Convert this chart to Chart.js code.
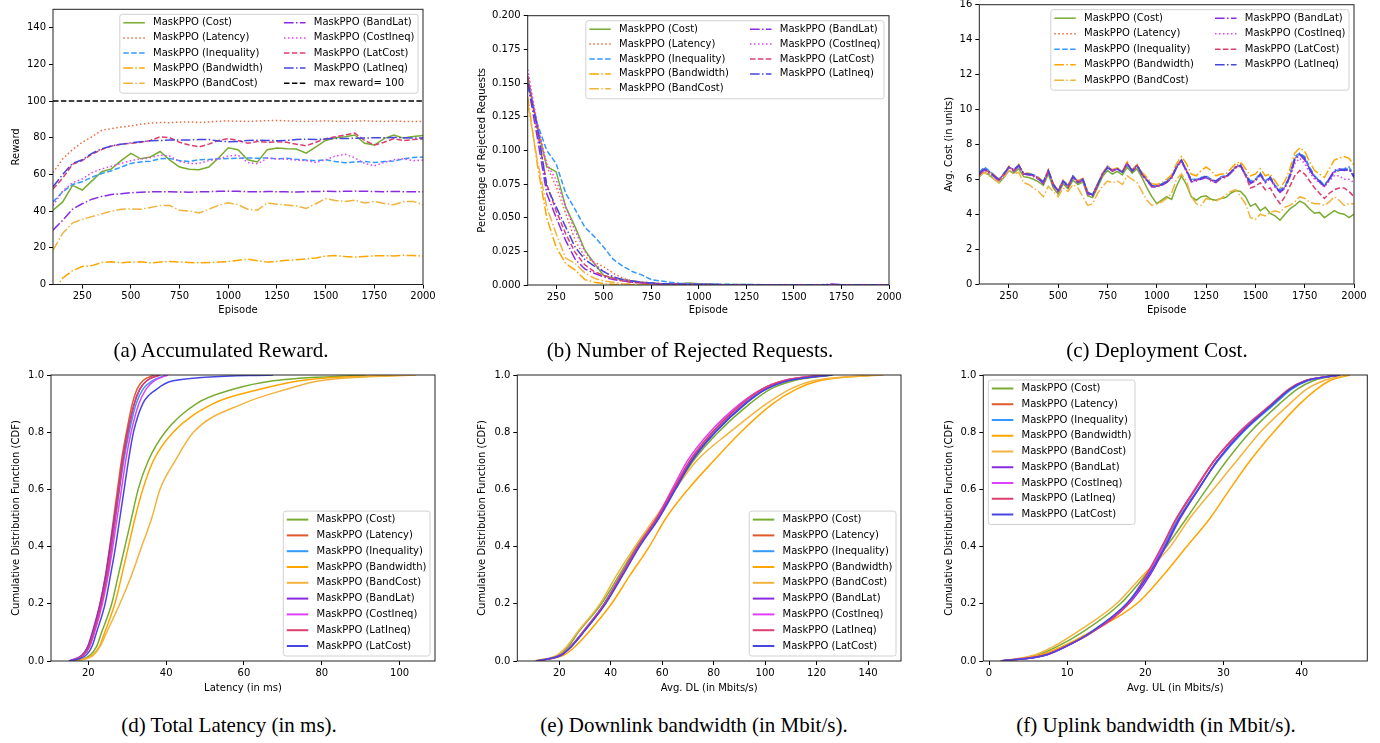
<!DOCTYPE html>
<html>
<head>
<meta charset="utf-8">
<title>MaskPPO training and CDF results</title>
<script src="https://cdn.jsdelivr.net/npm/chart.js@4.4.0/dist/chart.umd.min.js"></script>
<style>
  html, body { margin: 0; padding: 0; background: #fff; }
  body { width: 1380px; height: 743px; position: relative; overflow: hidden; }
  canvas { position: absolute; }
  .cap {
    position: absolute;
    font-family: "Liberation Serif", "Times New Roman", serif;
    font-size: 21px;
    color: #000;
    white-space: nowrap;
    transform: translate(-50%, -50%);
  }
</style>
</head>
<body>
<canvas id="chart-reward" width="460" height="330" style="left:0px;top:0px"></canvas>
<canvas id="chart-rejected" width="460" height="330" style="left:460px;top:0px"></canvas>
<canvas id="chart-cost" width="460" height="330" style="left:920px;top:0px"></canvas>
<canvas id="chart-latency" width="460" height="338" style="left:0px;top:362px"></canvas>
<canvas id="chart-dl" width="460" height="338" style="left:460px;top:362px"></canvas>
<canvas id="chart-ul" width="460" height="338" style="left:920px;top:362px"></canvas>

<div class="cap" style="left:221px;top:350px">(a) Accumulated Reward.</div>
<div class="cap" style="left:690px;top:350px">(b) Number of Rejected Requests.</div>
<div class="cap" style="left:1157px;top:350px">(c) Deployment Cost.</div>
<div class="cap" style="left:229px;top:725px">(d) Total Latency (in ms).</div>
<div class="cap" style="left:694px;top:725px">(e) Downlink bandwidth (in Mbit/s).</div>
<div class="cap" style="left:1156px;top:725px">(f) Uplink bandwidth (in Mbit/s).</div>

<script>
// ---- data ----------------------------------------------------------------

const lineLabels = ['MaskPPO (Cost)', 'MaskPPO (Latency)', 'MaskPPO (Inequality)', 'MaskPPO (Bandwidth)',
  'MaskPPO (BandCost)', 'MaskPPO (BandLat)', 'MaskPPO (CostIneq)', 'MaskPPO (LatCost)', 'MaskPPO (LatIneq)'];
const cdfLabels = ['MaskPPO (Cost)', 'MaskPPO (Latency)', 'MaskPPO (Inequality)', 'MaskPPO (Bandwidth)',
  'MaskPPO (BandCost)', 'MaskPPO (BandLat)', 'MaskPPO (CostIneq)', 'MaskPPO (LatIneq)', 'MaskPPO (LatCost)'];

const episodes = [100, 150, 200, 250, 300, 350, 400, 450, 500, 550, 600, 650, 700, 750, 800, 850, 900, 950, 1000,
  1050, 1100, 1150, 1200, 1250, 1300, 1350, 1400, 1450, 1500, 1550, 1600, 1650, 1700, 1750, 1800, 1850, 1900, 1950, 2000];

const costEpisodes = [100, 125, 150, 175, 200, 225, 250, 275, 300, 325, 350, 375, 400, 425, 450, 475, 500, 525, 550, 575,
  600, 625, 650, 675, 700, 725, 750, 775, 800, 825, 850, 875, 900, 925, 950, 975, 1000, 1025, 1050, 1075,
  1100, 1125, 1150, 1175, 1200, 1225, 1250, 1275, 1300, 1325, 1350, 1375, 1400, 1425, 1450, 1475, 1500, 1525, 1550, 1575,
  1600, 1625, 1650, 1675, 1700, 1725, 1750, 1775, 1800, 1825, 1850, 1875, 1900, 1925, 1950, 1975, 2000];

const maxReward = 100;

// (a) accumulated reward
const rewardCost = [40.5, 45, 54, 51.5, 56.5, 61.5, 63, 67.5, 71.5, 68.5, 69.5, 72.5, 67.8, 64, 62.8, 62.5, 64, 69, 74.5, 73.5,
  68, 66.8, 73.5, 74.4, 74, 73.8, 71.6, 75, 78.5, 80, 80.5, 81.5, 77, 76, 79.5, 81.5, 79.8, 80.7, 81.2];
const rewardLatency = [61, 68.5, 73.5, 77.5, 80.5, 84, 85, 85.8, 86.5, 87.3, 88, 88.3, 88.2, 88.5, 88.6, 88.3, 88.6, 89, 89.1, 89,
  88.9, 89.1, 89.3, 89.4, 89.2, 89, 88.9, 89.1, 89.2, 89, 88.9, 89.1, 89.2, 89, 88.9, 89.1, 88.9, 88.8, 88.8];
const rewardInequality = [45, 50.5, 54.5, 56, 58.5, 60.5, 62, 64, 66, 66.8, 67.2, 68.5, 68.7, 67.5, 67, 68, 68.2, 68.5, 68.7, 68.8,
  69, 68.8, 69, 68.5, 68.8, 68.2, 67.8, 67.5, 68, 67, 66.3, 66.8, 67, 66.5, 67, 67.3, 68.5, 69.2, 69.5];
const rewardBandwidth = [-4, 3.5, 7.5, 9.8, 10.3, 12, 12.4, 11.8, 12.2, 12.4, 11.8, 12.2, 12.5, 12.3, 12, 11.8, 12, 12.2, 12.5, 13.2,
  13.8, 13, 12.2, 12.6, 13.2, 13.5, 14, 14.5, 15.5, 15.8, 15.2, 15, 15.3, 15.6, 15.7, 15.6, 15.9, 15.8, 15.5];
const rewardBandCost = [18.7, 28, 33.5, 35.5, 37, 38.5, 40, 41, 41.2, 41, 42, 43, 43, 40.5, 40, 39, 41, 43.2, 44.5, 43.5,
  41, 40.5, 44.5, 43.8, 43.3, 42.8, 41.5, 44, 46.8, 45.8, 45.3, 46, 44.4, 45.3, 44.2, 43.5, 45.2, 45.3, 43.5];
const rewardBandLat = [29.6, 35, 41, 44, 46.5, 48, 49, 49.5, 50, 50.3, 50.5, 50.6, 50.5, 50.4, 50.3, 50.5, 50.6, 50.8, 50.9, 50.8,
  50.6, 50.5, 50.7, 50.6, 50.5, 50.4, 50.6, 50.7, 50.8, 50.7, 50.8, 50.9, 50.8, 50.7, 50.6, 50.7, 50.6, 50.5, 50.5];
const rewardCostIneq = [43, 51, 55.5, 57.5, 61, 63, 64.5, 66, 67.5, 68.5, 69.2, 70.5, 70, 67, 66, 66, 67.5, 68.5, 70, 70.5,
  66.5, 65.8, 68.8, 68.5, 68.3, 67.8, 67.5, 66.5, 68, 70, 71, 69, 66, 64.7, 66.5, 68, 68.5, 67.5, 67.8];
const rewardLatCost = [52, 58, 65.5, 67.5, 71, 73.5, 75.5, 76.5, 77, 77.5, 78.5, 80.5, 80, 77.5, 76, 75, 76.5, 78.5, 79.5, 78.5,
  77, 78, 77.5, 77.8, 77.5, 76.5, 75.6, 77.5, 79.5, 80.5, 81.5, 82.5, 78.5, 76, 77.5, 79.5, 78.5, 79, 79.5];
const rewardLatIneq = [53.3, 60, 66, 68, 71.5, 74, 75.5, 76.5, 77.2, 77.8, 78.3, 78.5, 78.7, 78.8, 78.8, 79, 79, 78.2, 77.8, 78,
  78.5, 78.6, 78.5, 78.4, 78.5, 79, 79.2, 79, 79.3, 79.6, 79.6, 79.7, 79.8, 80, 80, 80.1, 80, 79.8, 79.8];

// (b) share of rejected requests
const rejCost = [0.155, 0.117, 0.088, 0.084, 0.058, 0.043, 0.026, 0.016, 0.007, 0.005, 0.004, 0.003, 0.002, 0.0015, 0.001, 0.001,
  0.001, 0.0015, 0.001, 0.0008, 0.0005, 0.0004, 0.0003, 0.0003, 0.0002, 0.0002, 0.0002, 0.0001, 0.0001, 0.0001,
  0.0001, 0.0001, 0.0002, 0.0001, 0.0001, 0.0001, 0.0001, 0.0001, 0.0001];
const rejLatency = [0.155, 0.12, 0.088, 0.073, 0.053, 0.033, 0.021, 0.017, 0.0135, 0.0087, 0.005, 0.003, 0.002, 0.0015, 0.001,
  0.0008, 0.0006, 0.0005, 0.0004, 0.0003, 0.0003, 0.0002, 0.0002, 0.0002, 0.0001, 0.0001, 0.0001, 0.0001, 0.0001, 0.0001,
  0.0001, 0.0001, 0.0001, 0.0001, 0.0001, 0.0001, 0.0001, 0.0001, 0.0001];
const rejInequality = [0.15, 0.12, 0.1, 0.09, 0.068, 0.056, 0.043, 0.036, 0.028, 0.019, 0.014, 0.01, 0.0075, 0.004, 0.003,
  0.002, 0.0012, 0.001, 0.0008, 0.0007, 0.0006, 0.0005, 0.0004, 0.0003, 0.0003, 0.0002, 0.0002, 0.0002, 0.0002, 0.0001,
  0.0001, 0.0001, 0.0001, 0.0001, 0.0001, 0.0001, 0.0001, 0.0001, 0.0001];
const rejBandwidth = [0.14, 0.09, 0.05, 0.028, 0.016, 0.011, 0.004, 0.002, 0.001, 0.0005, 0.0003, 0.0002, 0.0001, 0, 0,
  0, 0, 0, 0, 0, 0, 0, 0, 0, 0, 0, 0, 0, 0, 0, 0, 0, 0, 0, 0, 0, 0, 0, 0];
const rejBandCost = [0.135, 0.093, 0.058, 0.038, 0.02, 0.016, 0.009, 0.005, 0.003, 0.002, 0.001, 0.0006, 0.0004, 0.0002, 0.0001,
  0, 0, 0, 0, 0, 0, 0, 0, 0, 0, 0, 0, 0, 0, 0, 0, 0, 0, 0, 0, 0, 0, 0, 0];
const rejBandLat = [0.15, 0.11, 0.068, 0.05, 0.033, 0.019, 0.012, 0.0087, 0.006, 0.004, 0.003, 0.002, 0.0015, 0.001, 0.0008,
  0.0006, 0.0005, 0.0004, 0.0003, 0.0003, 0.0002, 0.0002, 0.0002, 0.0001, 0.0001, 0.0001, 0.0001, 0.0001, 0.0001, 0.0001,
  0.0001, 0.0002, 0.0008, 0.0002, 0.0001, 0.0001, 0.0001, 0.0001, 0.0001];
const rejCostIneq = [0.16, 0.12, 0.09, 0.078, 0.058, 0.04, 0.025, 0.016, 0.01, 0.006, 0.004, 0.003, 0.002, 0.0015, 0.001,
  0.0008, 0.0006, 0.0005, 0.0004, 0.0003, 0.0003, 0.0002, 0.0002, 0.0002, 0.0001, 0.0001, 0.0001, 0.0001, 0.0001, 0.0001,
  0.0001, 0.0001, 0.0001, 0.0001, 0.0001, 0.0001, 0.0001, 0.0001, 0.0002];
const rejLatCost = [0.155, 0.115, 0.075, 0.055, 0.038, 0.024, 0.015, 0.01, 0.007, 0.005, 0.003, 0.002, 0.0015, 0.001, 0.0008,
  0.0006, 0.0005, 0.0004, 0.0003, 0.0003, 0.0002, 0.0002, 0.0002, 0.0001, 0.0001, 0.0001, 0.0001, 0.0001, 0.0001, 0.0001,
  0.0001, 0.0001, 0.0001, 0.0001, 0.0001, 0.0001, 0.0001, 0.0001, 0.0001];
const rejLatIneq = [0.15, 0.118, 0.073, 0.058, 0.043, 0.028, 0.019, 0.014, 0.01, 0.006, 0.004, 0.003, 0.002, 0.0015, 0.001,
  0.0008, 0.0006, 0.0005, 0.0004, 0.0003, 0.0003, 0.0002, 0.0002, 0.0002, 0.0001, 0.0001, 0.0001, 0.0001, 0.0001, 0.0001,
  0.0001, 0.0001, 0.0001, 0.0001, 0.0001, 0.0001, 0.0001, 0.0001, 0.0001];

// (c) deployment cost
const depCost = [6.15, 6.4, 6.25, 6.0, 5.8, 6.1, 6.5, 6.35, 6.6, 6.15, 6.1, 6.0, 5.85, 5.65, 6.3, 5.5, 5.15, 5.75, 5.45, 5.95,
  5.7, 5.85, 5.05, 4.95, 5.55, 6.15, 6.5, 6.3, 6.45, 6.25, 6.7, 6.35, 6.6, 6.1, 5.5, 5.0, 4.6, 4.8, 5.0, 4.85,
  5.6, 6.2, 5.7, 5.0, 4.8, 5.0, 5.05, 4.85, 4.8, 4.9, 4.95, 5.2, 5.35, 5.3, 5.0, 4.45, 4.6, 4.2, 4.4, 4.05,
  3.9, 3.65, 4.0, 4.3, 4.5, 4.75, 4.6, 4.3, 4.05, 4.1, 3.8, 4.0, 4.2, 4.05, 4.0, 3.8, 4.0];
const depLatency = [6.3, 6.55, 6.4, 6.2, 5.95, 6.3, 6.65, 6.5, 6.8, 6.35, 6.3, 6.2, 6.05, 5.8, 6.45, 5.7, 5.3, 5.9, 5.6, 6.15,
  5.85, 6.0, 5.2, 5.1, 5.7, 6.35, 6.7, 6.5, 6.6, 6.45, 6.9, 6.5, 6.8, 6.3, 5.95, 5.6, 5.6, 5.7, 5.85, 6.1,
  6.7, 7.05, 6.5, 5.9, 5.95, 6.05, 6.15, 5.95, 5.85, 6.1, 6.15, 6.45, 6.75, 6.9, 6.3, 5.85, 5.95, 6.3, 5.85, 6.1,
  5.6, 5.3, 5.55, 6.2, 7.2, 7.45, 7.2, 6.6, 6.15, 5.9, 5.6, 6.0, 6.4, 6.5, 6.6, 6.7, 6.2];
const depInequality = [6.4, 6.7, 6.5, 6.25, 6.0, 6.35, 6.7, 6.55, 6.8, 6.3, 6.35, 6.25, 6.1, 5.85, 6.5, 5.75, 5.35, 5.95, 5.65, 6.2,
  5.9, 6.05, 5.25, 5.15, 5.75, 6.3, 6.75, 6.55, 6.6, 6.4, 6.9, 6.5, 6.8, 6.35, 6.0, 5.65, 5.65, 5.75, 5.9, 6.15,
  6.75, 7.1, 6.55, 6.0, 6.0, 6.1, 6.2, 6.0, 5.9, 6.15, 6.2, 6.4, 6.7, 6.8, 6.3, 5.9, 6.0, 6.35, 5.9, 6.15,
  5.65, 5.4, 5.6, 6.3, 7.3, 7.5, 7.3, 6.7, 6.2, 5.95, 5.65, 6.05, 6.45, 6.55, 6.6, 6.7, 6.2];
const depBandwidth = [6.35, 6.55, 6.4, 6.25, 6.0, 6.3, 6.75, 6.5, 6.85, 6.3, 6.35, 6.2, 6.1, 5.85, 6.55, 5.75, 5.35, 5.95, 5.65, 6.2,
  5.9, 6.05, 5.25, 5.15, 5.75, 6.35, 6.75, 6.55, 6.65, 6.45, 7.0, 6.55, 6.85, 6.4, 6.1, 5.75, 5.7, 5.8, 6.0, 6.25,
  6.9, 7.3, 6.9, 6.3, 6.2, 6.5, 6.7, 6.5, 6.2, 6.3, 6.3, 6.6, 6.9, 7.0, 6.6, 6.2, 6.3, 6.6, 6.2, 6.3,
  5.9, 5.5, 5.9, 6.6, 7.5, 7.8, 7.6, 7.0, 6.5, 6.3, 6.1, 6.6, 7.1, 7.2, 7.3, 7.2, 6.8];
const depBandCost = [6.2, 6.4, 6.2, 6.0, 5.8, 6.1, 6.5, 6.3, 6.4, 5.8, 5.7, 5.5, 5.3, 5.0, 5.6, 5.3, 5.0, 5.5, 5.3, 5.7,
  5.5, 5.0, 4.5, 4.6, 5.2, 5.6, 5.9, 5.8, 5.9, 5.7, 6.2, 6.0, 5.8, 5.3, 4.8, 4.5, 4.6, 4.7, 4.9, 5.2,
  6.0, 6.3, 5.9, 5.0, 4.6, 4.5, 4.9, 4.8, 4.75, 4.9, 5.1, 5.3, 5.4, 5.0, 4.6, 3.8, 3.7, 4.0, 3.9, 4.1,
  4.2, 4.1, 4.4, 4.5, 4.7, 5.0, 4.9, 4.7, 4.6, 4.6, 4.5, 4.7, 5.0, 4.8, 4.5, 4.6, 4.6];
const depBandLat = [6.25, 6.55, 6.35, 6.15, 5.9, 6.25, 6.7, 6.45, 6.75, 6.3, 6.25, 6.15, 6.0, 5.75, 6.45, 5.65, 5.25, 5.85, 5.55, 6.1,
  5.8, 5.95, 5.15, 5.05, 5.65, 6.3, 6.7, 6.45, 6.6, 6.4, 6.95, 6.45, 6.75, 6.25, 5.9, 5.55, 5.55, 5.65, 5.8, 6.05,
  6.65, 7.05, 6.45, 5.85, 5.9, 6.0, 6.1, 5.9, 5.8, 6.05, 6.1, 6.35, 6.65, 6.75, 6.2, 5.75, 5.9, 6.25, 5.8, 6.05,
  5.55, 5.25, 5.5, 6.15, 7.1, 7.4, 7.1, 6.55, 6.1, 5.85, 5.6, 6.05, 6.5, 6.6, 6.5, 6.55, 6.2];
const depCostIneq = [6.3, 6.6, 6.4, 6.2, 5.95, 6.3, 6.7, 6.5, 6.8, 6.3, 6.3, 6.2, 6.05, 5.8, 6.5, 5.7, 5.3, 5.9, 5.6, 6.15,
  5.85, 6.0, 5.2, 5.1, 5.7, 6.3, 6.7, 6.5, 6.6, 6.4, 6.9, 6.5, 6.8, 6.3, 5.95, 5.6, 5.6, 5.7, 5.85, 6.1,
  6.7, 7.0, 6.45, 5.9, 5.95, 6.05, 6.1, 5.95, 5.85, 6.1, 6.15, 6.4, 6.65, 6.75, 6.2, 5.8, 5.9, 6.25, 5.8, 6.05,
  5.55, 5.25, 5.5, 6.1, 6.9, 7.2, 6.9, 6.4, 6.0, 5.8, 5.55, 5.9, 6.2, 6.2, 6.0, 6.0, 5.8];
const depLatCost = [6.3, 6.6, 6.4, 6.2, 5.95, 6.3, 6.7, 6.5, 6.8, 6.3, 6.3, 6.2, 6.05, 5.8, 6.5, 5.7, 5.3, 5.9, 5.6, 6.15,
  5.85, 6.0, 5.2, 5.1, 5.7, 6.3, 6.7, 6.5, 6.6, 6.4, 6.9, 6.5, 6.8, 6.3, 5.95, 5.6, 5.6, 5.7, 5.85, 6.1,
  6.7, 7.1, 6.5, 5.9, 5.95, 6.05, 6.15, 5.95, 5.85, 6.1, 6.15, 6.4, 6.7, 6.8, 6.2, 5.5, 5.6, 5.8, 5.4, 5.5,
  5.0, 4.6, 5.0, 5.6, 6.2, 6.5, 6.3, 5.9, 5.5, 5.2, 4.9, 5.2, 5.4, 5.5, 5.5, 5.3, 5.0];
const depLatIneq = [6.35, 6.6, 6.45, 6.2, 6.0, 6.3, 6.7, 6.55, 6.8, 6.3, 6.3, 6.25, 6.05, 5.85, 6.5, 5.7, 5.35, 5.9, 5.6, 6.15,
  5.85, 6.0, 5.25, 5.1, 5.7, 6.3, 6.65, 6.5, 6.6, 6.4, 6.85, 6.5, 6.8, 6.3, 5.95, 5.65, 5.6, 5.7, 5.85, 6.1,
  6.7, 7.1, 6.5, 5.95, 5.95, 6.05, 6.15, 5.95, 5.9, 6.1, 6.15, 6.4, 6.7, 6.8, 6.25, 5.8, 5.95, 6.3, 5.85, 6.1,
  5.6, 5.3, 5.55, 6.2, 7.2, 7.45, 7.2, 6.6, 6.15, 5.9, 5.6, 6.0, 6.4, 6.5, 6.55, 6.6, 6.1];

// CDF levels shared by (d), (e), (f); each series lists the value reached at that level
const cdfLevels = [0, 0.02, 0.05, 0.1, 0.2, 0.3, 0.4, 0.5, 0.6, 0.7, 0.8, 0.9, 0.95, 0.98, 1];

// (d) total latency, ms
const latCost = [17, 20.4, 22.1, 23.4, 26, 27.7, 29.4, 31.1, 32.8, 35.4, 39.7, 47.8, 57.2, 67.5, 91.5];
const latLatency = [15.5, 18.5, 20.0, 21.2, 23.0, 24.4, 25.5, 26.5, 27.5, 28.5, 29.8, 31.3, 32.5, 34, 37];
const latInequality = [15.5, 18.8, 20.3, 21.5, 23.4, 24.9, 26, 27, 28, 29.1, 30.5, 32.3, 34, 36.5, 40];
const latBandwidth = [16.5, 21.0, 22.8, 24.2, 26.8, 28.6, 30.3, 32, 34, 36.7, 41.8, 52.1, 64.1, 74.4, 99.2];
const latBandCost = [17.4, 21.3, 23, 24.7, 28.1, 31.1, 33.7, 36.3, 38.4, 42.3, 47, 59.8, 70.9, 79.5, 104.3];
const latBandLat = [15, 18.3, 19.8, 21, 23, 24.5, 25.6, 26.7, 27.8, 28.8, 30.1, 31.8, 33.2, 35, 38];
const latCostIneq = [15.5, 18.7, 20.3, 21.6, 23.6, 25.1, 26.3, 27.4, 28.5, 29.6, 31, 33, 34.8, 37, 40.5];
const latLatIneq = [15.5, 18.6, 20.2, 21.4, 23.3, 24.8, 25.9, 26.9, 27.9, 28.9, 30.2, 31.8, 33.2, 35, 38.5];
const latLatCost = [15.3, 19.4, 20.9, 22.1, 24.3, 25.7, 27, 28.1, 29.2, 30.3, 31.6, 34, 37.5, 41.8, 67.5];

// (e) downlink, Mbit/s
const dlCost = [10.5, 19.5, 23.5, 27.4, 36.4, 43.3, 50, 57.8, 65, 72.1, 81.8, 94.1, 101.9, 111, 126.5];
const dlLatency = [11, 20.5, 24.5, 29.2, 37.6, 44.2, 50.7, 58.2, 64.6, 71, 79.6, 91, 98.6, 107, 122];
const dlInequality = [11, 20.5, 24.5, 29.0, 37.4, 44.0, 50.6, 58.3, 64.8, 71.2, 80.3, 92, 99.6, 108, 124];
const dlBandwidth = [11.2, 21.6, 26.1, 31.3, 40.3, 47.5, 55, 61.5, 70, 80, 90.5, 103, 112, 121, 142];
const dlBandCost = [10.5, 19, 22.8, 27.0, 35.8, 42.3, 49.4, 57.2, 65, 73.4, 86.3, 100.6, 109.6, 118.7, 146];
const dlBandLat = [11, 20.6, 24.6, 29.3, 37.8, 44.4, 51, 58.5, 64.8, 71.4, 80.5, 92.2, 100, 108.5, 125];
const dlCostIneq = [11, 20.4, 24.4, 29, 37.5, 44, 50.4, 57.8, 63.8, 69.8, 78.5, 90.3, 98.5, 107, 122];
const dlLatIneq = [11, 20.4, 24.4, 29.1, 37.5, 44.1, 50.5, 58, 64.3, 70.6, 79.4, 91, 98.8, 107.5, 123];
const dlLatCost = [11, 20.6, 24.7, 29.4, 38, 44.7, 51.2, 58.8, 65.2, 71.6, 80.7, 92.5, 100.3, 109, 126];

// (f) uplink, Mbit/s
const ulCost = [1.5, 6.1, 8.7, 11.9, 16.8, 20, 22.7, 25.3, 27.8, 30.4, 33.4, 37.2, 39.4, 41.5, 44.9];
const ulLatency = [1.5, 7.1, 9.7, 13.0, 17.7, 20.2, 22.2, 24.1, 26.4, 28.8, 32, 36.2, 38.3, 40.4, 44.8];
const ulInequality = [1.5, 7.0, 9.6, 12.9, 17.6, 20.2, 22.3, 24.3, 26.7, 29.3, 32.5, 36.6, 38.7, 40.8, 45];
const ulBandwidth = [2.0, 6.5, 9.3, 12.9, 18.9, 22.3, 25.3, 28.3, 30.8, 33.4, 36.4, 39.8, 41.9, 43.6, 46.2];
const ulBandCost = [1.4, 5.7, 8.2, 11.2, 16.3, 19.7, 23.2, 25.7, 28.7, 31.7, 34.7, 38.5, 40.6, 42.8, 45.8];
const ulBandLat = [1.6, 7.2, 9.8, 13.1, 17.9, 20.6, 22.6, 24.5, 26.8, 29.2, 32.3, 36.4, 38.5, 40.6, 44.9];
const ulCostIneq = [1.5, 7.1, 9.8, 13.1, 17.8, 20.3, 22.2, 24, 26.3, 28.8, 32, 36.3, 38.4, 40.5, 44.8];
const ulLatIneq = [1.5, 7.0, 9.7, 13.2, 17.8, 20.1, 22.1, 24.0, 26.4, 28.8, 32.1, 36.3, 38.4, 40.5, 44.9];
const ulLatCost = [1.6, 7.2, 9.8, 13.0, 17.6, 20.4, 22.5, 24.4, 26.8, 29.2, 32.4, 36.4, 38.5, 40.6, 44.9];

// ---- styles --------------------------------------------------------------

const DOTTED = [1.5, 2.5];
const DASHED = [5.5, 2.4];
const DASHDOT = [9.6, 2.4, 1.5, 2.4];

const lineStyles = [
  { color: '#77ac30', dash: [] },
  { color: '#ea6a3c', dash: DOTTED },
  { color: '#3399ff', dash: DASHED },
  { color: '#ffa500', dash: DASHDOT },
  { color: '#f2b33d', dash: DASHDOT },
  { color: '#8a2be2', dash: DASHDOT },
  { color: '#e040fb', dash: DOTTED },
  { color: '#dc3f6e', dash: DASHED },
  { color: '#4646e0', dash: DASHDOT }
];
const cdfColors = ['#77ac30', '#e0592a', '#3399ff', '#ffa500', '#f2b33d', '#8a2be2', '#e040fb', '#dc3f6e', '#4646e0'];

Chart.defaults.font.family = "'DejaVu Sans', sans-serif";
Chart.defaults.font.size = 10;
Chart.defaults.color = '#000';

// ---- plugins -------------------------------------------------------------

// matplotlib-like box around the axes
const framePlugin = {
  id: 'frame',
  afterDatasetsDraw(chart) {
    const { ctx, chartArea: a } = chart;
    ctx.save();
    ctx.strokeStyle = '#222';
    ctx.lineWidth = 1;
    ctx.strokeRect(a.left, a.top, a.right - a.left, a.bottom - a.top);
    ctx.restore();
  }
};

// column-major legend drawn inside the plot, like matplotlib's
const legendPlugin = {
  id: 'mplLegend',
  afterDatasetsDraw(chart, args, opts) {
    if (!opts || !opts.loc) return;
    const { ctx, chartArea: area } = chart;
    const sets = chart.data.datasets;
    const rows = Math.ceil(sets.length / opts.ncol);
    const pad = 3.5, handle = 21.5, gap = 8.3, colGap = 21, inset = 5;

    ctx.save();
    ctx.font = "10px 'DejaVu Sans'";
    const colW = [];
    for (let c = 0; c < opts.ncol; c++) {
      const part = sets.slice(c * rows, (c + 1) * rows);
      colW.push(Math.max(...part.map(d => ctx.measureText(d.label).width)));
    }
    let w = pad * 2 + (opts.ncol - 1) * colGap;
    colW.forEach(cw => { w += handle + gap + cw; });
    const h = (rows - 1) * opts.rowH + 18.5;
    const left = opts.loc.includes('left') ? area.left + inset : area.right - inset - w;
    const top = opts.loc.includes('upper') ? area.top + inset : area.bottom - inset - h;

    ctx.beginPath();
    if (ctx.roundRect) ctx.roundRect(left, top, w, h, 2.5); else ctx.rect(left, top, w, h);
    ctx.fillStyle = 'rgba(255,255,255,0.85)';
    ctx.fill();
    ctx.strokeStyle = '#d0d0d0';
    ctx.lineWidth = 1;
    ctx.stroke();

    let x = left + pad;
    colW.forEach((cw, c) => {
      sets.slice(c * rows, (c + 1) * rows).forEach((d, r) => {
        const y = top + 8.5 + r * opts.rowH;
        ctx.beginPath();
        ctx.setLineDash(d.borderDash || []);
        ctx.strokeStyle = d.borderColor;
        ctx.lineWidth = opts.handleWidth || d.borderWidth;
        ctx.moveTo(x, y);
        ctx.lineTo(x + handle, y);
        ctx.stroke();
        ctx.setLineDash([]);
        ctx.fillStyle = '#000';
        ctx.textBaseline = 'middle';
        ctx.fillText(d.label, x + handle + gap, y);
      });
      x += handle + gap + cw + colGap;
    });
    ctx.restore();
  }
};

// ---- builders ------------------------------------------------------------

function lineSeries(xs, seriesList, labels) {
  return seriesList.map((values, i) => ({
    label: labels[i],
    data: xs.map((x, k) => ({ x: x, y: values[k] })),
    borderColor: lineStyles[i].color,
    borderDash: lineStyles[i].dash,
    borderWidth: 1.5,
    order: seriesList.length - i
  }));
}

function cdfSeries(seriesList) {
  return seriesList.map((xs, i) => ({
    label: cdfLabels[i],
    data: cdfLevels.map((p, k) => ({ x: xs[k], y: p })),
    borderColor: cdfColors[i],
    borderDash: [],
    borderWidth: 1.5,
    cubicInterpolationMode: 'monotone',
    order: seriesList.length - i
  }));
}

function makeChart(id, box, plot, spec) {
  const yW = plot.l - box.x;
  const xH = box.y + box.h - plot.b;
  const tickGrid = { display: true, drawOnChartArea: false, drawTicks: true, tickLength: 4, tickColor: '#000', tickWidth: 1 };
  return new Chart(document.getElementById(id), {
    type: 'line',
    data: { datasets: spec.datasets },
    plugins: [framePlugin, legendPlugin],
    options: {
      responsive: false,
      animation: false,
      events: [],
      layout: {
        autoPadding: false,
        padding: { left: 0, top: plot.t - box.y, right: box.x + box.w - plot.r, bottom: 0 }
      },
      elements: { point: { radius: 0 }, line: { tension: 0, fill: false } },
      plugins: { legend: { display: false }, tooltip: { enabled: false }, mplLegend: spec.legend },
      scales: {
        x: {
          type: 'linear', min: spec.x.min, max: spec.x.max,
          afterFit: s => { s.height = xH; s.paddingLeft = 0; s.paddingRight = 0; },
          ticks: { stepSize: spec.x.step, includeBounds: false, maxRotation: 0, autoSkip: false, padding: 2,
            callback: v => String(v) },
          grid: tickGrid,
          border: { display: false },
          title: { display: true, text: spec.x.title, font: { size: 10 }, padding: { top: 0, bottom: spec.x.titlePad } }
        },
        y: {
          type: 'linear', min: spec.y.min, max: spec.y.max,
          afterFit: s => { s.width = yW; s.paddingTop = 0; s.paddingBottom = 0; },
          ticks: { stepSize: spec.y.step, includeBounds: false, padding: 3, callback: spec.y.fmt },
          grid: tickGrid,
          border: { display: false },
          title: { display: true, text: spec.y.title, font: { size: 10 }, padding: { top: spec.y.titlePad, bottom: 0 } }
        }
      }
    }
  });
}

// ---- charts --------------------------------------------------------------

const rewardSets = lineSeries(episodes,
  [rewardCost, rewardLatency, rewardInequality, rewardBandwidth, rewardBandCost, rewardBandLat,
   rewardCostIneq, rewardLatCost, rewardLatIneq], lineLabels);
rewardSets.push({
  label: 'max reward= 100',
  data: [{ x: episodes[0], y: maxReward }, { x: episodes[episodes.length - 1], y: maxReward }],
  borderColor: '#000',
  borderDash: DASHED,
  borderWidth: 1.5,
  order: 0
});

makeChart('chart-reward', { x: 0, y: 0, w: 460, h: 330 }, { l: 53, t: 9.3, r: 423, b: 284.5 }, {
  datasets: rewardSets,
  x: { min: 100, max: 2000, step: 250, title: 'Episode', titlePad: 14 },
  y: { min: 0, max: 150, step: 20, title: 'Reward', titlePad: 10, fmt: v => String(v) },
  legend: { loc: 'upper right', ncol: 2, rowH: 15.1 }
});

makeChart('chart-rejected', { x: 460, y: 0, w: 460, h: 330 }, { l: 527.7, t: 15.7, r: 889, b: 285 }, {
  datasets: lineSeries(episodes,
    [rejCost, rejLatency, rejInequality, rejBandwidth, rejBandCost, rejBandLat, rejCostIneq, rejLatCost, rejLatIneq],
    lineLabels),
  x: { min: 100, max: 2000, step: 250, title: 'Episode', titlePad: 13.5 },
  y: { min: 0, max: 0.2, step: 0.025, title: 'Percentage of Rejected Requests', titlePad: 16.3, fmt: v => v.toFixed(3) },
  legend: { loc: 'upper right', ncol: 2, rowH: 14.9 }
});

makeChart('chart-cost', { x: 920, y: 0, w: 460, h: 330 }, { l: 979.3, t: 4.7, r: 1354, b: 284 }, {
  datasets: lineSeries(costEpisodes,
    [depCost, depLatency, depInequality, depBandwidth, depBandCost, depBandLat, depCostIneq, depLatCost, depLatIneq],
    lineLabels),
  x: { min: 100, max: 2000, step: 250, title: 'Episode', titlePad: 14 },
  y: { min: 0, max: 16, step: 2, title: 'Avg. Cost (in units)', titlePad: 23, fmt: v => String(v) },
  legend: { loc: 'upper right', ncol: 2, rowH: 15.5 }
});

const cdfTitle = 'Cumulative Distribution Function (CDF)';

makeChart('chart-latency', { x: 0, y: 362, w: 460, h: 338 }, { l: 51, t: 375, r: 435, b: 661 }, {
  datasets: cdfSeries([latCost, latLatency, latInequality, latBandwidth, latBandCost, latBandLat,
    latCostIneq, latLatIneq, latLatCost]),
  x: { min: 10.4, max: 109.1, step: 20, title: 'Latency (in ms)', titlePad: 6 },
  y: { min: 0, max: 1, step: 0.2, title: cdfTitle, titlePad: 10.7, fmt: v => v.toFixed(1) },
  legend: { loc: 'lower right', ncol: 1, rowH: 15.8, handleWidth: 2 }
});

makeChart('chart-dl', { x: 460, y: 362, w: 460, h: 338 }, { l: 517.3, t: 375, r: 901, b: 661 }, {
  datasets: cdfSeries([dlCost, dlLatency, dlInequality, dlBandwidth, dlBandCost, dlBandLat,
    dlCostIneq, dlLatIneq, dlLatCost]),
  x: { min: 3.7, max: 152.8, step: 20, title: 'Avg. DL (in Mbits/s)', titlePad: 6 },
  y: { min: 0, max: 1, step: 0.2, title: cdfTitle, titlePad: 16.7, fmt: v => v.toFixed(1) },
  legend: { loc: 'lower right', ncol: 1, rowH: 15.8, handleWidth: 2 }
});

makeChart('chart-ul', { x: 920, y: 362, w: 460, h: 338 }, { l: 983.3, t: 375, r: 1367.3, b: 661 }, {
  datasets: cdfSeries([ulCost, ulLatency, ulInequality, ulBandwidth, ulBandCost, ulBandLat,
    ulCostIneq, ulLatIneq, ulLatCost]),
  x: { min: -0.73, max: 48.4, step: 10, title: 'Avg. UL (in Mbits/s)', titlePad: 6 },
  y: { min: 0, max: 1, step: 0.2, title: cdfTitle, titlePad: 23, fmt: v => v.toFixed(1) },
  legend: { loc: 'upper left', ncol: 1, rowH: 15.75, handleWidth: 2 }
});
</script>
</body>
</html>
